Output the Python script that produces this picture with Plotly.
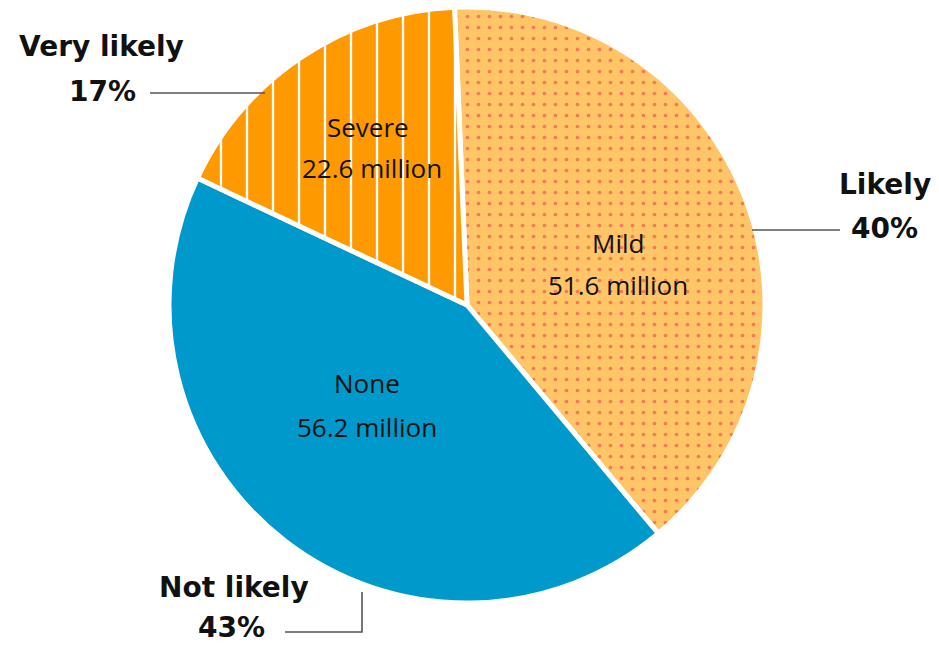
import plotly.graph_objects as go

# Slice data
categories = ["Mild", "None", "Severe"]
values_millions = [51.6, 56.2, 22.6]
likelihood_labels = ["Likely", "Not likely", "Very likely"]
likelihood_pcts = ["40%", "43%", "17%"]

W, H = 939, 646


def px(x):
    return x / W


def py(y):
    return 1 - y / H


fig = go.Figure()

cx, cy, r = 467, 305, 298
fig.add_trace(go.Pie(
    labels=categories,
    values=values_millions,
    sort=False,
    direction="clockwise",
    rotation=-2.4,
    textinfo="none",
    hoverinfo="label+value",
    showlegend=False,
    domain=dict(x=[px(cx - r), px(cx + r)], y=[py(cy + r), py(cy - r)]),
    marker=dict(
        colors=["#FFC566", "#0099CC", "#FF9900"],
        line=dict(color="white", width=5),
        pattern=dict(
            shape=[".", "", "|"],
            fgcolor=["#F27A55", "#0099CC", "white"],
            bgcolor=["#FFC566", "#0099CC", "#FF9900"],
            size=[11, 10, 26],
            solidity=[0.09, 0.2, 0.09],
            fillmode="replace",
        ),
    ),
))


def label(x, y, text, font):
    fig.add_annotation(
        x=px(x), y=py(y), xref="paper", yref="paper",
        xanchor="center", yanchor="middle",
        text=text, showarrow=False, align="center", font=font,
        borderpad=0,
    )


# Slice labels inside the pie (name line, value line)
inner_pos = {
    "Mild": ((618, 243), (618, 285)),
    "None": ((367, 383), (367, 427)),
    "Severe": ((368, 127), (372, 168)),
}
inner_font = dict(family="Open Sans", size=26, color="#111111")
for name, val in zip(categories, values_millions):
    (x1, y1), (x2, y2) = inner_pos[name]
    label(x1, y1, name, inner_font)
    label(x2, y2, f"{val} million", inner_font)

# Likelihood labels outside the pie
outer_pos = {
    "Likely": ((885, 185), (884, 228)),
    "Not likely": ((234, 587), (231, 627)),
    "Very likely": ((101, 47), (102, 92)),
}
outer_font = dict(family="DejaVu Sans", size=28, color="#111111", weight="bold")
for name, pct in zip(likelihood_labels, likelihood_pcts):
    (x1, y1), (x2, y2) = outer_pos[name]
    label(x1, y1, name, outer_font)
    label(x2, y2, pct, outer_font)

# Leader lines
line_style = dict(color="#555555", width=1.6)
leaders = [
    [(150, 93), (265, 93)],
    [(752, 230), (840, 230)],
    [(285, 632), (362, 632), (362, 592)],
]
for pts in leaders:
    path = "M " + " L ".join(f"{px(x)},{py(y)}" for x, y in pts)
    fig.add_shape(type="path", path=path, xref="paper", yref="paper", line=line_style)

fig.update_layout(
    width=W, height=H,
    margin=dict(l=0, r=0, t=0, b=0),
    paper_bgcolor="white",
    plot_bgcolor="white",
)

fig.write_html("out.html")
